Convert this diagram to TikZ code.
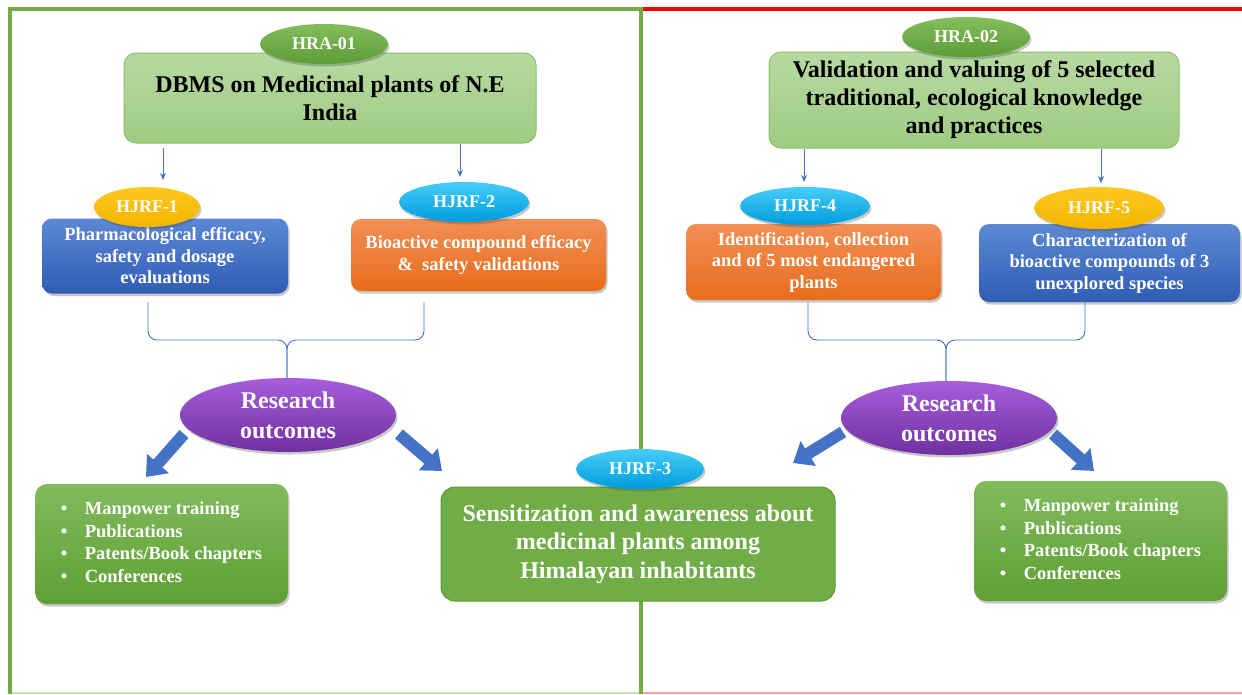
\documentclass[tikz,border=0pt]{standalone}
\usepackage{fontspec}
\setmainfont{Liberation Serif}
\usetikzlibrary{shapes.geometric,arrows.meta,shadows,calc}
\definecolor{frameG}{HTML}{70AD47}
\definecolor{frameR}{HTML}{FF0000}
\definecolor{botG}{HTML}{C9E2B8}
\definecolor{botR}{HTML}{F4A0A0}
\definecolor{lgTop}{HTML}{B7D9A2}
\definecolor{lgBot}{HTML}{9FCB82}
\definecolor{lgBd}{HTML}{8CBF6B}
\definecolor{egTop}{HTML}{84BD5D}
\definecolor{egBot}{HTML}{5C9C35}
\definecolor{goldT}{HTML}{FFC820}
\definecolor{goldB}{HTML}{F2B600}
\definecolor{cyanT}{HTML}{45CDF8}
\definecolor{cyanB}{HTML}{009CDD}
\definecolor{blueT}{HTML}{5C88D4}
\definecolor{blueB}{HTML}{2F5DB5}
\definecolor{orT}{HTML}{F28F54}
\definecolor{orB}{HTML}{E86C1C}
\definecolor{puT}{HTML}{A65EDB}
\definecolor{puB}{HTML}{7030A0}
\definecolor{buT}{HTML}{80BB5C}
\definecolor{buB}{HTML}{5F9F34}
\definecolor{sensG}{HTML}{70AD47}
\definecolor{sensBd}{HTML}{5C9A36}
\definecolor{arrB}{HTML}{4472C4}
\tikzset{
  shd/.style={drop shadow={shadow xshift=1.5pt,shadow yshift=-2.5pt,opacity=0.3,fill=black!70}},
  tag/.style={ellipse, inner sep=0pt, minimum width=128pt, minimum height=40pt,
    text=white, font=\bfseries\fontsize{18}{20}\selectfont, shd},
  taggreen/.style={tag, top color=egTop, bottom color=egBot},
  taggold/.style={tag, top color=goldT, bottom color=goldB},
  tagcyan/.style={tag, top color=cyanT, bottom color=cyanB},
  topbox/.style={rectangle, rounded corners=12pt, draw=lgBd, line width=1pt,
    top color=lgTop, bottom color=lgBot, inner sep=0pt, align=center,
    font=\bfseries\fontsize{24}{28}\selectfont},
  midbox/.style={rectangle, rounded corners=10pt, inner sep=0pt, align=center,
    text=white, font=\bfseries\fontsize{18.5}{21.5}\selectfont, shd},
  bluebox/.style={midbox, top color=blueT, bottom color=blueB},
  orbox/.style={midbox, top color=orT, bottom color=orB},
  outc/.style={ellipse, inner sep=0pt, minimum width=216pt, minimum height=74pt,
    top color=puT, bottom color=puB, text=white, align=center,
    font=\bfseries\fontsize{24}{30}\selectfont, shd},
  bulbox/.style={rectangle, rounded corners=12pt, inner sep=0pt,
    top color=buT, bottom color=buB, text=white,
    font=\bfseries\fontsize{18.5}{22.5}\selectfont, shd},
  sensbox/.style={rectangle, rounded corners=14pt, draw=sensBd, line width=1pt,
    fill=sensG, text=white, align=center, inner sep=0pt,
    font=\bfseries\fontsize{24}{28.5}\selectfont},
  thinarr/.style={draw=arrB, line width=1pt, -{Stealth[length=7pt,width=6pt]}},
  brace/.style={draw=arrB, line width=0.9pt, rounded corners=9pt},
  blockarr/.style={draw=arrB, line width=12pt, -{Triangle[length=18pt,width=28pt]}},
}
\newcommand{\bul}[4]{\begin{tabular}{@{}p{24pt}@{}l@{}}
\textbullet & #1\\ \textbullet & #2\\ \textbullet & #3\\ \textbullet & #4
\end{tabular}}
\begin{document}
\begin{tikzpicture}[x=1pt,y=-1pt]
\useasboundingbox[fill=white] (0,0) rectangle (1242,694);
% frames
\draw[botG, line width=2pt] (10,693) -- (641,693);
\draw[botR, line width=2pt] (641,693) -- (1242,693);
\draw[frameR, line width=4pt] (641,9) -- (1242,9);
\draw[frameG, line width=4pt] (10,694) -- (10,9) -- (643,9);
\draw[frameG, line width=4pt] (641,9) -- (641,694);

% ---------- left panel ----------
\node[topbox, minimum width=412pt, minimum height=90pt] (dbms) at (330,98)
  {DBMS on Medicinal plants of N.E\\India};
\node[taggreen] (hra1) at (324,44) {HRA-01};

\node[bluebox, minimum width=246pt, minimum height=75pt] (pharm) at (165,256)
  {Pharmacological efficacy,\\safety and dosage\\evaluations};
\node[taggold, minimum width=106pt] (hj1) at (147,207) {HJRF-1};

\node[orbox, minimum width=255pt, minimum height=72pt] (bio) at (478.5,255)
  {Bioactive compound efficacy\\\&\ \ safety validations};
\node[tagcyan, minimum width=130pt] (hj2) at (464,202) {HJRF-2};

\coordinate (a1s) at (163,148); \coordinate (a1e) at (163,180);
\coordinate (a2s) at (460,144); \coordinate (a2e) at (460,177);
\draw[thinarr] (a1s) -- (a1e);
\draw[thinarr] (a2s) -- (a2e);

\node[outc] (ro1) at (288,415) {Research\\outcomes};
\coordinate (bL) at (148,302); \coordinate (bR) at (424,302);
\coordinate (bC) at (287,340); \coordinate (bM) at (287,378);
\draw[brace] (bL) |- (bC) -- (bM);
\draw[brace] (bR) |- (bC) -- (bM);

\node[bulbox, minimum width=253pt, minimum height=120pt] (bul1) at (161.5,544)
  {\bul{Manpower training}{Publications}{Patents/Book chapters}{Conferences}};

\coordinate (b1s) at (184,434); \coordinate (b1e) at (146,477);
\coordinate (b2s) at (399,434); \coordinate (b2e) at (442,471);
\draw[blockarr] (b1s) -- (b1e);
\draw[blockarr] (b2s) -- (b2e);

% centre
\node[sensbox, minimum width=394pt, minimum height=114pt] (sens) at (638,544)
  {Sensitization and awareness about\\medicinal plants among\\Himalayan inhabitants};
\node[tagcyan] (hj3) at (640,469) {HJRF-3};

% ---------- right panel ----------
\node[topbox, minimum width=410pt, minimum height=96pt] (valid) at (974,100)
  {Validation and valuing of 5 selected\\traditional, ecological knowledge\\and practices};
\node[taggreen] (hra2) at (966,37) {HRA-02};

\node[orbox, minimum width=255pt, minimum height=76pt] (ident) at (813.5,262)
  {Identification, collection\\and of 5 most endangered\\plants};
\node[tagcyan, minimum width=130pt, minimum height=38pt] (hj4) at (805,206) {HJRF-4};

\node[bluebox, minimum width=261pt, minimum height=78pt] (charc) at (1109.5,263)
  {Characterization of\\bioactive compounds of 3\\unexplored species};
\node[taggold, minimum width=130pt, minimum height=42pt] (hj5) at (1099,208) {HJRF-5};

\coordinate (a4s) at (804,149); \coordinate (a4e) at (804,182);
\coordinate (a5s) at (1101,149); \coordinate (a5e) at (1101,183);
\draw[thinarr] (a4s) -- (a4e);
\draw[thinarr] (a5s) -- (a5e);

\node[outc] (ro2) at (949,418) {Research\\outcomes};
\coordinate (cL) at (808,302); \coordinate (cR) at (1085,302);
\coordinate (cC) at (946,340); \coordinate (cM) at (946,381);
\draw[brace] (cL) |- (cC) -- (cM);
\draw[brace] (cR) |- (cC) -- (cM);

\node[bulbox, minimum width=253pt, minimum height=120pt] (bul2) at (1100.5,541)
  {\bul{Manpower training}{Publications}{Patents/Book chapters}{Conferences}};

\coordinate (b3s) at (843,432); \coordinate (b3e) at (793,463);
\coordinate (b4s) at (1053,434); \coordinate (b4e) at (1094,471);
\draw[blockarr] (b3s) -- (b3e);
\draw[blockarr] (b4s) -- (b4e);
\end{tikzpicture}
\end{document}
